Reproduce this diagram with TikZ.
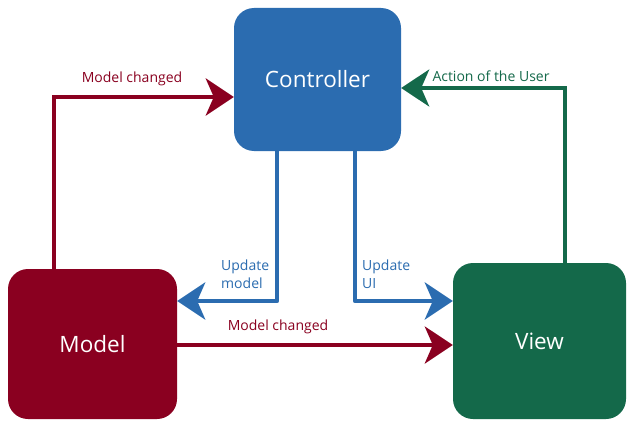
\documentclass[tikz,border=0pt]{standalone}
\usepackage{fontspec}
\setmainfont{Open Sans}
\usetikzlibrary{arrows.meta,calc}
\definecolor{cblue}{HTML}{2B6CB0}
\definecolor{cred}{HTML}{8A0020}
\definecolor{cgreen}{HTML}{14694A}
\tikzset{
  box/.style={rounded corners=20pt, inner sep=0pt, text=white, font=\fontsize{22.5}{26}\selectfont},
  conn/.style={line width=4.5pt, -{Stealth[length=28pt,width=37pt,inset=8pt]}},
  lab/.style={font=\fontsize{14}{17.5}\selectfont, inner sep=0pt},
}
\begin{document}
\begin{tikzpicture}[x=1pt,y=-1pt]
\fill[white] (0,0) rectangle (634,428);
\useasboundingbox (0,0) rectangle (634,428);
\node[box, fill=cblue, minimum width=167pt, minimum height=143pt] (ctrl) at (317.5,79.5) {Controller};
\node[box, fill=cred, minimum width=169pt, minimum height=150pt] (model) at (92.5,344) {Model};
\node[box, fill=cgreen, minimum width=173pt, minimum height=156pt] (view) at (539.5,341) {View};
% top red
\draw[conn, cred] (model.north -| 54,0) |- (ctrl.west |- 0,97);
\node[lab, text=cred] (l1) at (132,79) {Model changed};
% green
\draw[conn, cgreen, line width=4pt] (view.north -| 565,0) |- (ctrl.east |- 0,88);
\node[lab, text=cgreen] (l2) at (491,76) {Action of the User};
% blue update model
\draw[conn, cblue, line join=round] (ctrl.south -| 277,0) |- (model.east |- 0,301);
\node[lab, text=cblue, align=left, anchor=west] (l3) at (221,274) {Update\\model};
% blue update UI
\draw[conn, cblue, line join=round] (ctrl.south -| 355,0) |- (view.west |- 0,301);
\node[lab, text=cblue, align=left, anchor=west] (l4) at (362,274) {Update\\UI};
% bottom red
\draw[conn, cred, line width=4pt] (model.east |- 0,345) -- (view.west |- 0,345);
\node[lab, text=cred] (l5) at (278,327) {Model changed};
\end{tikzpicture}
\end{document}
